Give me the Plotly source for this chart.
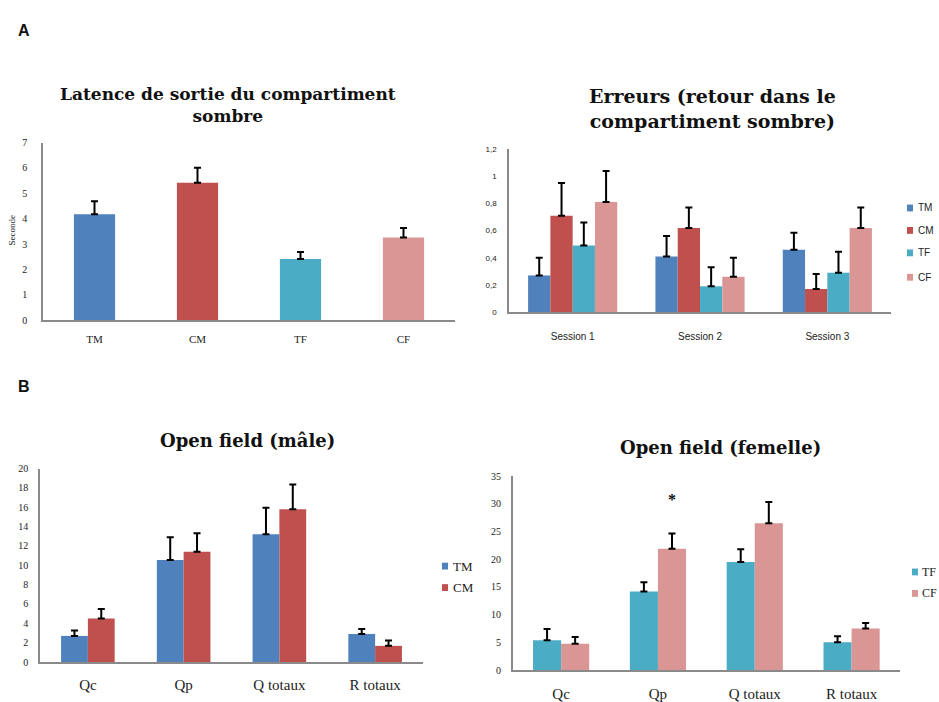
import plotly.graph_objects as go

# ---------------- data ----------------
groups = ["TM", "CM", "TF", "CF"]
group_colors = ["#4F81BD", "#C0504D", "#4BACC6", "#D99694"]

# Latence de sortie du compartiment sombre (secondes)
latence = [4.18, 5.42, 2.41, 3.26]
latence_err = [0.51, 0.59, 0.28, 0.37]

# Erreurs (retour dans le compartiment sombre)
sessions = ["Session 1", "Session 2", "Session 3"]
err_TM = [0.27, 0.41, 0.46]
err_CM = [0.71, 0.62, 0.17]
err_TF = [0.49, 0.19, 0.29]
err_CF = [0.81, 0.26, 0.62]
sem_TM = [0.13, 0.15, 0.125]
sem_CM = [0.24, 0.15, 0.11]
sem_TF = [0.17, 0.14, 0.155]
sem_CF = [0.23, 0.14, 0.15]

# Open field
zones = ["Qc", "Qp", "Q totaux", "R totaux"]
of_TM = [2.7, 10.55, 13.2, 2.9]
of_CM = [4.5, 11.4, 15.8, 1.67]
of_TM_err = [0.55, 2.35, 2.75, 0.5]
of_CM_err = [0.97, 1.9, 2.55, 0.55]
of_TF = [5.4, 14.2, 19.5, 5.05]
of_CF = [4.75, 21.9, 26.5, 7.5]
of_TF_err = [2.05, 1.65, 2.3, 1.05]
of_CF_err = [1.25, 2.75, 3.8, 1.0]
signif_zone = "Qp"
signif_level = 30.7

# ---------------- helpers ----------------
W, H = 939, 702
AXIS_GREY = "#8a8a8a"
SERIF = "Liberation Serif"
TITLE_SERIF = "DejaVu Serif"
SANS = "Liberation Sans"


def err_plus(vals):
    return dict(type="data", array=vals, arrayminus=[0] * len(vals), symmetric=False,
                color="black", thickness=2, width=3.5)


def px_dom(a, b):
    return [a / W, b / W]


def ydom(top, bottom):
    return [(H - bottom) / H, (H - top) / H]


fig = go.Figure()

# ---- A: latence ----
fig.add_trace(go.Bar(
    x=groups, y=latence, marker=dict(color=group_colors, line=dict(width=0)),
    width=0.4, error_y=err_plus(latence_err), showlegend=False,
    xaxis="x", yaxis="y"))

# ---- A: erreurs ----
series_err = [err_TM, err_CM, err_TF, err_CF]
series_sem = [sem_TM, sem_CM, sem_TF, sem_CF]
w2 = 0.7 / 4
for i, (name, col, vals, sem) in enumerate(zip(groups, group_colors, series_err, series_sem)):
    fig.add_trace(go.Bar(
        x=sessions, y=vals, width=w2, offset=-0.35 + i * w2, name=name,
        marker=dict(color=col, line=dict(width=0)), error_y=err_plus(sem),
        showlegend=False, xaxis="x2", yaxis="y2"))

# ---- B: open field male ----
w3 = 0.28
for i, (name, col, vals, e) in enumerate(zip(groups[:2], group_colors[:2],
                                             [of_TM, of_CM], [of_TM_err, of_CM_err])):
    fig.add_trace(go.Bar(
        x=zones, y=vals, width=w3, offset=-w3 + i * w3, name=name,
        marker=dict(color=col, line=dict(width=0)), error_y=err_plus(e),
        showlegend=False, xaxis="x3", yaxis="y3"))

# ---- B: open field femelle ----
w4 = 0.29
for i, (name, col, vals, e) in enumerate(zip(groups[2:], group_colors[2:],
                                             [of_TF, of_CF], [of_TF_err, of_CF_err])):
    fig.add_trace(go.Bar(
        x=zones, y=vals, width=w4, offset=-w4 + i * w4, name=name,
        marker=dict(color=col, line=dict(width=0)), error_y=err_plus(e),
        showlegend=False, xaxis="x4", yaxis="y4"))


def xax(dom, anchor, n, font, standoff):
    return dict(domain=dom, anchor=anchor, type="category", range=[-0.5, n - 0.5],
                showline=True, linecolor=AXIS_GREY, linewidth=1.5, showgrid=False,
                zeroline=False, ticks="outside", ticklen=standoff,
                tickcolor="rgba(0,0,0,0)", tickfont=font, fixedrange=True)


def yax(dom, anchor, rng, dtick, font, standoff):
    return dict(domain=dom, anchor=anchor, range=rng, dtick=dtick, tick0=0,
                showline=True, linecolor=AXIS_GREY, linewidth=1.5, showgrid=False,
                zeroline=False, ticks="outside", ticklen=standoff,
                tickcolor="rgba(0,0,0,0)", tickfont=font, fixedrange=True)


fig.update_layout(
    width=W, height=H, margin=dict(l=0, r=0, t=0, b=0),
    paper_bgcolor="white", plot_bgcolor="white", separators=", ",
    barmode="overlay", showlegend=False,
    xaxis=xax(px_dom(43, 455), "y", 4, dict(family=SERIF, size=11, color="#222"), 8),
    yaxis=yax(ydom(140, 322), "x", [0, 7], 1, dict(family=SERIF, size=10, color="#222"), 12),
    xaxis2=xax(px_dom(509, 891), "y2", 3, dict(family=SANS, size=10, color="#222"), 14),
    yaxis2=yax(ydom(146.7, 313.7), "x2", [0, 1.2], 0.2, dict(family=SANS, size=8, color="#222"), 9),
    xaxis3=xax(px_dom(40, 423), "y3", 4, dict(family=SERIF, size=15, color="#222"), 8),
    yaxis3=yax(ydom(474, 672.3), "x3", [0, 20], 2, dict(family=SERIF, size=10, color="#222"), 8),
    xaxis4=xax(px_dom(512.7, 900), "y4", 4, dict(family=SERIF, size=15, color="#222"), 9),
    yaxis4=yax(ydom(481.7, 680.7), "x4", [0, 35], 5, dict(family=SERIF, size=10, color="#222"), 8),
)


def add_text(text, x, y, font, angle=0, xanchor="center"):
    fig.add_annotation(text=text, xref="paper", yref="paper",
                       x=x / W, y=(H - y) / H, xanchor=xanchor, yanchor="middle",
                       showarrow=False, font=font, textangle=angle, align="center")


# panel letters and chart titles
add_text("<b>A</b>", 24, 25, dict(family=SANS, size=16, color="#111"))
add_text("<b>B</b>", 24, 390, dict(family=SANS, size=16, color="#111"))
add_text("<b>Latence de sortie du compartiment<br>sombre</b>", 228, 101,
         dict(family=TITLE_SERIF, size=17, color="#111"))
add_text("<b>Erreurs (retour dans le<br>compartiment sombre)</b>", 712, 105,
         dict(family=TITLE_SERIF, size=19, color="#111"))
add_text("<b>Open field (mâle)</b>", 247, 445, dict(family=TITLE_SERIF, size=18, color="#111"))
add_text("<b>Open field (femelle)</b>", 720, 452, dict(family=TITLE_SERIF, size=18, color="#111"))
add_text("Seconde", 12, 230, dict(family=SERIF, size=9, color="#222"), angle=-90)


# compact legends: small colour key + label
def add_legend(names, colors, x_key, ys, x_text, font):
    for name, col, yk in zip(names, colors, ys):
        fig.add_shape(type="rect", xref="paper", yref="paper",
                      x0=(x_key - 3) / W, x1=(x_key + 3) / W,
                      y0=(H - yk - 3.5) / H, y1=(H - yk + 3.5) / H,
                      fillcolor=col, line=dict(width=0))
        add_text(name, x_text, yk, font, xanchor="left")


add_legend(groups, group_colors, 910, [207, 230, 253, 278], 916,
           dict(family=SANS, size=10, color="#222"))
add_legend(groups[:2], group_colors[:2], 445, [574, 596], 451,
           dict(family=SERIF, size=13, color="#222"))
add_legend(groups[2:], group_colors[2:], 915, [580, 602], 920,
           dict(family=SERIF, size=12, color="#222"))

# significance marker over the CF bar in Qp
fig.add_annotation(text="<b>*</b>", x=signif_zone, y=signif_level, xref="x4", yref="y4",
                   xshift=w4 / 2 * (900 - 512.7) / 4, showarrow=False, yanchor="middle",
                   font=dict(family=SERIF, size=16, color="#111"))

fig.write_html("out.html")
